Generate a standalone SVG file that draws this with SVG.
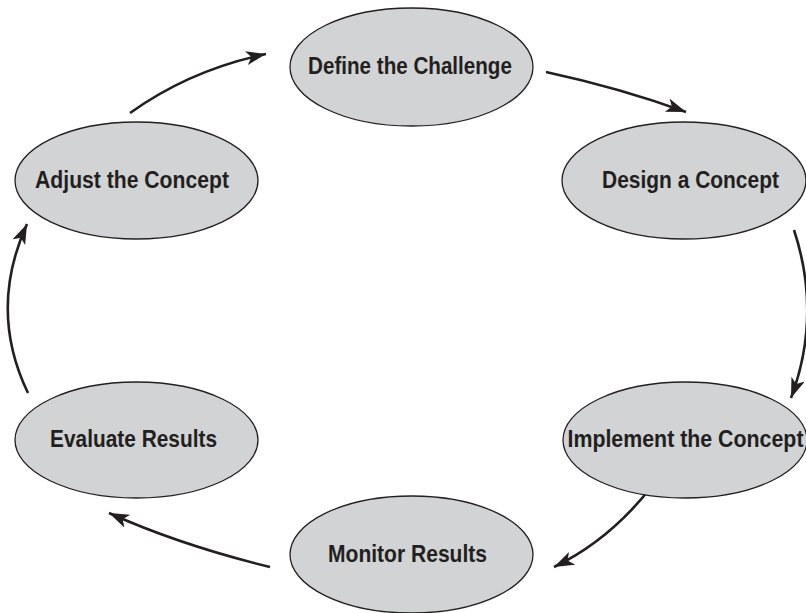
<svg xmlns="http://www.w3.org/2000/svg" width="806" height="613" viewBox="0 0 806 613">
<defs>
<style>
.node ellipse{fill:#d1d3d4;stroke:#231f20;stroke-width:1.3}
.node text{font-family:"Liberation Sans",Arial,sans-serif;font-weight:bold;font-size:24.5px;fill:#231f20;text-anchor:middle}
.conn path{fill:none;stroke:#231f20;stroke-width:2.6;marker-end:url(#ah)}
</style>
<marker id="ah" markerUnits="userSpaceOnUse" markerWidth="22" markerHeight="16" refX="20" refY="7" orient="auto">
<path d="M0,0 L20,7 L0,14 L5,7 z" fill="#231f20"/>
</marker>
</defs>
<rect width="806" height="613" fill="#fff"/>
<g id="connectors" class="conn">
<path d="M546,72 Q620,88 686,112"/>
<path d="M794,230 Q822,315 791,398"/>
<path d="M652,486 Q610,540 554,567"/>
<path d="M270,567 Q180,545 109,513"/>
<path d="M28,393 Q-12,310 27,224"/>
<path d="M130,113 Q190,70 266,54"/>
</g>
<g id="define" class="node"><ellipse cx="411.5" cy="67" rx="121.5" ry="59"/><text transform="translate(410,73.5) scale(0.842,1)">Define the Challenge</text></g>
<g id="design" class="node"><ellipse cx="684" cy="180.5" rx="122" ry="58.5"/><text transform="translate(690.5,188) scale(0.855,1)">Design a Concept</text></g>
<g id="implement" class="node"><ellipse cx="685" cy="440" rx="122" ry="58"/><text transform="translate(685.5,447) scale(0.872,1)">Implement the Concept</text></g>
<g id="monitor" class="node"><ellipse cx="411.5" cy="554.5" rx="121.5" ry="58.5"/><text transform="translate(407.5,562) scale(0.859,1)">Monitor Results</text></g>
<g id="evaluate" class="node"><ellipse cx="136.5" cy="440" rx="121.5" ry="58"/><text transform="translate(133.5,447) scale(0.852,1)">Evaluate Results</text></g>
<g id="adjust" class="node"><ellipse cx="136.5" cy="180.5" rx="121.5" ry="58.5"/><text transform="translate(132,188) scale(0.864,1)">Adjust the Concept</text></g>
</svg>
